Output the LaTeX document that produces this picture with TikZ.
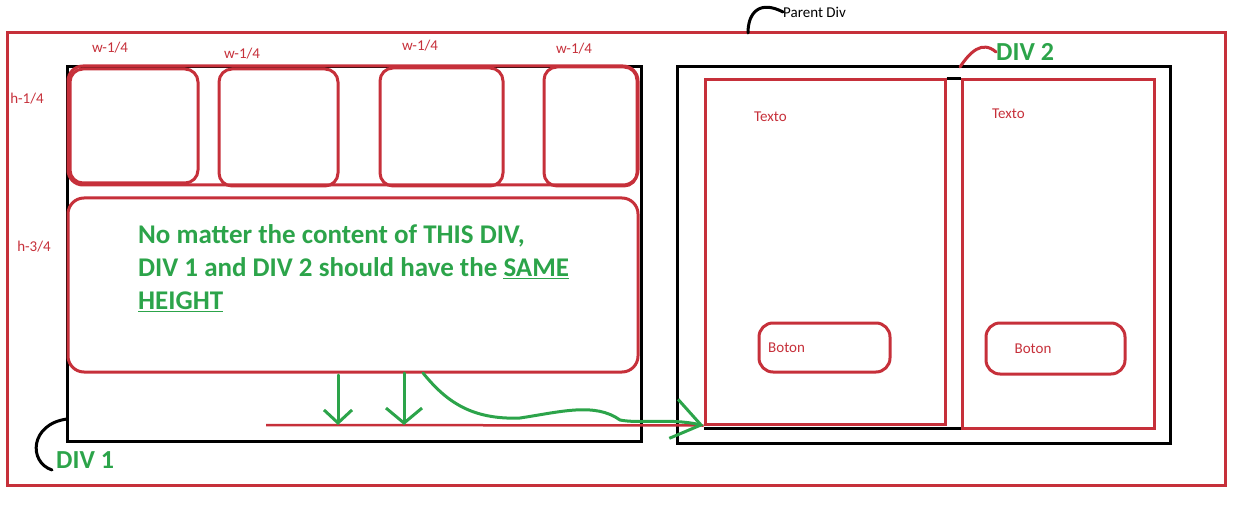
\documentclass[tikz,border=0pt]{standalone}
\usepackage{fontspec}
\setmainfont{Carlito}
\usepackage{xcolor}
\definecolor{brick}{RGB}{198,48,58}
\definecolor{leaf}{RGB}{44,164,74}
\usetikzlibrary{arrows.meta,positioning}

\begin{document}
\begin{tikzpicture}[x=1pt,y=-1pt,
  frame/.style={rectangle,draw=brick,line width=3pt,inner sep=0pt},
  div/.style={rectangle,draw=black,line width=3pt,inner sep=0pt},
  card/.style={rectangle,draw=brick,line width=3pt,rounded corners=13pt,inner sep=0pt},
  col/.style={rectangle,draw=brick,line width=3pt,inner sep=0pt},
  tag/.style={font=\fontsize{15}{17}\selectfont,text=brick,inner sep=0pt},
  note/.style={font=\fontsize{27}{33}\selectfont\bfseries,text=leaf,inner sep=0pt,align=left},
  hook/.style={line width=3pt,line cap=round},
  push/.style={draw=leaf,line width=3pt,line cap=round,line join=round},
]
  \useasboundingbox (0,0) rectangle (1257,518);

  % outer frame
  \node[frame,minimum width=1218pt,minimum height=452pt](parent) at (616,259) {};
  \node[font=\fontsize{15}{17}\selectfont,inner sep=0pt,anchor=west](pdiv) at (783,12) {Parent Div};
  \coordinate (ptop) at (748,33);
  \draw[hook] (ptop) .. controls (748,12) and (760,0) .. (pdiv.west);

  % div 1
  \node[div,minimum width=574pt,minimum height=374pt](div1) at (354,254) {};
  \node[card,rounded corners=15pt,minimum width=570pt,minimum height=119pt](row) at (353,125.5) {};
  \node[card,minimum width=128pt,minimum height=114pt](b1) at (134,126) {};
  \node[card,minimum width=119pt,minimum height=117pt](b2) at (278.5,127.5) {};
  \node[card,minimum width=123pt,minimum height=118pt](b3) at (441.5,127) {};
  \node[card,minimum width=93pt,minimum height=119pt](b4) at (590.5,126.5) {};
  \node[tag](w1) at (110,48) {w-1/4};
  \node[tag](w2) at (242,54) {w-1/4};
  \node[tag](w3) at (420,46) {w-1/4};
  \node[tag](w4) at (574,49) {w-1/4};
  \node[tag](h1) at (27,99) {h-1/4};
  \node[tag](h3) at (34,247) {h-3/4};

  \node[card,rounded corners=16pt,minimum width=570pt,minimum height=174pt](big) at (353,285) {};
  \node[note,anchor=north west](msg) at (138,224)
    {No matter the content of THIS DIV,\\
     DIV 1 and DIV 2 should have the \underline{SAME}\\
     \underline{HEIGHT}};

  \node[font=\fontsize{26}{30}\selectfont\bfseries,text=leaf,inner sep=0pt,anchor=west](lbl1) at (56,460) {DIV 1};
  \coordinate (d1hook) at (67,419);
  \draw[hook] (d1hook) .. controls (30,424) and (28,462) .. (52,470);

  % div 2
  \node[div,minimum width=493pt,minimum height=376pt](div2) at (923.5,255) {};
  \node[col,minimum width=240pt,minimum height=344pt](colA) at (825,252) {};
  \node[col,minimum width=192pt,minimum height=348pt](colB) at (1058,254) {};
  \draw[black,line width=3pt] (colA.north east) -- (colB.north west);
  \draw[black,line width=2.5pt] ([yshift=-3pt]colA.south west) -- ([yshift=-3pt]colA.south west -| colB.west);
  \node[tag,anchor=west](tA) at (754,117) {Texto};
  \node[tag,anchor=west](tB) at (992,114) {Texto};
  \node[card,rounded corners=14pt,minimum width=131pt,minimum height=49pt](btnA) at (824.5,347.5) {};
  \node[card,rounded corners=14pt,minimum width=139pt,minimum height=51pt](btnB) at (1055.5,348.5) {};
  \node[tag,anchor=west](bA) at (768,348) {Boton};
  \node[tag](bB) at (1033,349) {Boton};

  \node[font=\fontsize{26}{30}\selectfont\bfseries,text=leaf,inner sep=0pt,anchor=west](lbl2) at (996,52) {DIV 2};
  \coordinate (d2hook) at (960,67);
  \draw[hook,brick] (d2hook) .. controls (970,52) and (982,40) .. (lbl2.west);

  % same height line and arrows
  \coordinate (floor) at (266,425);
  \draw[brick,line width=2.5pt] (floor) -- (colA.south west);
  \coordinate (s1) at (338,375);
  \coordinate (s2) at (404,373);
  \coordinate (wave) at (423,373);
  \draw[push,-{Straight Barb[length=13pt,width=28pt,line width=3pt]}] (s1) -- (s1 |- floor);
  \draw[push,-{Straight Barb[length=15pt,width=36pt,line width=3pt]}] (s2) -- (s2 |- floor);
  \draw[push,-{Straight Barb[length=28pt,width=40pt,line width=3pt]}] (wave)
    .. controls (445,400) and (470,420) .. (520,418)
    .. controls (560,412) and (595,402) .. (620,420)
    .. controls (640,424) and (670,418) .. (colA.south west);
\end{tikzpicture}
\end{document}
